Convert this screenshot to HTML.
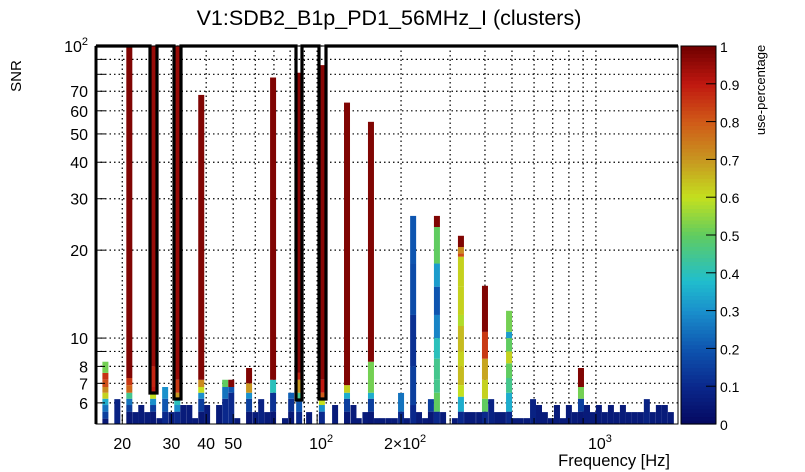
<!DOCTYPE html>
<html><head><meta charset="utf-8">
<style>
html,body{margin:0;padding:0;background:#fff;}
svg{display:block;font-family:"Liberation Sans",sans-serif;}
</style></head>
<body>
<svg id="c" width="805" height="472" viewBox="0 0 805 472">
  <rect x="0" y="0" width="805" height="472" fill="#fff"/>
  <text x="389" y="25" font-size="21.5" text-anchor="middle" fill="#000">V1:SDB2_B1p_PD1_56MHz_I (clusters)</text>
  <text transform="translate(21,76) rotate(-90)" font-size="15" text-anchor="middle">SNR</text>
  <text x="670" y="466" font-size="16.5" text-anchor="end">Frequency [Hz]</text>
  <text transform="translate(765,90) rotate(-90)" font-size="13" text-anchor="middle">use-percentage</text>
  <g id="grid"></g>
  <g id="bars"></g>
  <g id="axes"></g>
  <g id="cbar"></g>
</svg>
<script>
const colFreq = [17.4,19.2,21.2,22.3,23.4,24.6,25.8,27.2,28.5,30.0,31.5,33.1,34.8,36.5,38.4,40.3,44.5,46.8,49.2,51.7,57.0,60.0,63.0,66.2,69.5,76.7,80.7,86.2,93.6,104,116,128,135,141,149,156,164,172,181,190,200,210,221,232,244,256,269,283,312,328,345,362,381,400,421,442,464,488,513,538,566,595,625,656,690,725,762,800,841,884,929,976,1025,1077,1132,1189,1250,1313,1380,1450,1523,1600,1682,1767,1857];
const n1=[[5.32,0.06]], n2=[[5.58,0.06]], n3=[[5.9,0.06]], n4=[[6.18,0.08]];
const colSegs = [
 [[5.3,0.05],[5.6,0.15],[5.9,0.25],[6.2,0.35],[6.5,0.62],[6.8,0.72],[7.2,0.82],[7.6,0.86],[8.3,0.52]],
 n4,
 [[5.6,0.05],[5.9,0.15],[6.2,0.25],[6.5,0.45],[6.9,0.78],[7.3,0.85],[120,0.98]],
 n2,n3,n2,
 [[5.6,0.05],[5.9,0.15],[6.2,0.3],[6.5,0.6],[6.8,0.9],[8,0.88],[120,0.95]],
 n1,
 [[5.6,0.1],[6.2,0.2],[6.8,0.3]],
 n2,
 [[5.6,0.1],[5.9,0.3],[6.2,0.4],[6.5,0.7],[7.2,0.85],[120,0.95]],
 n3,n3,n1,
 [[5.6,0.05],[6.2,0.15],[6.5,0.3],[6.8,0.6],[7.2,0.72],[68,0.98]],
 n3,n3,
 [[6.2,0.1],[6.8,0.25],[7.2,0.5]],
 [[6.5,0.1],[6.8,0.2],[7.2,0.98]],
 n1,
 [[5.6,0.05],[6.2,0.15],[6.5,0.3],[7.0,0.7],[7.9,0.98]],
 n2,n4,n2,
 [[5.6,0.05],[6.5,0.12],[7.2,0.4],[78,0.98]],
 n1,
 [[5.6,0.05],[6.2,0.12],[6.5,0.22]],
 [[5.6,0.1],[6.2,0.2],[6.5,0.45],[7.2,0.7],[7.6,0.88],[81,0.97]],
 n2,
 [[5.6,0.1],[5.9,0.3],[6.2,0.6],[6.5,0.8],[7.2,0.9],[86,0.97]],
 n3,
 [[5.6,0.05],[6.2,0.15],[6.5,0.35],[6.9,0.62],[64,0.98]],
 n3,n1,n2,
 [[5.6,0.05],[6.2,0.15],[6.5,0.35],[8.3,0.52],[55,0.98]],
 n1,n1,n1,n1,
 [[5.6,0.1],[6.49,0.25]],
 n1,
 [[5.9,0.1],[8,0.15],[12,0.12],[18,0.18],[26.2,0.2]],
 n2,n1,
 [[5.6,0.05],[6.18,0.15]],
 [[5.6,0.1],[6.5,0.5],[7.2,0.45],[8.5,0.45],[10,0.4],[12,0.28],[15,0.2],[18,0.32],[24,0.5],[26.2,0.98]],
 n2,n1,
 [[5.6,0.1],[6.3,0.35],[6.9,0.6],[8,0.65],[9,0.62],[11,0.65],[12,0.58],[15,0.62],[19,0.62],[19.5,0.82],[20.5,0.72],[22.4,0.98]],
 n2,n2,n2,
 [[5.6,0.1],[6.2,0.5],[7.2,0.62],[8.5,0.68],[10.5,0.85],[15.1,0.98]],
 n4,n2,n2,
 [[5.6,0.1],[6.5,0.35],[7.3,0.45],[8.2,0.5],[9,0.62],[10,0.5],[10.5,0.32],[12.4,0.52]],
 n1,n1,n1,n4,n3,n2,n1,n3,n1,n3,n2,
 [[5.6,0.05],[6.2,0.15],[6.8,0.52],[7.9,0.98]],
 n3,n2,n3,n2,n3,n2,n3,n2,n2,n2,n4,n2,n3,n3,n2
];
const yTickVals = [6,7,8,9,10,20,30,40,50,60,70,80,90,100];
const yTickLabels = ["6","7","8","","10","20","30","40","50","60","70","","",""];
const xTickVals = [20,30,40,50,60,70,80,90,100,200,300,400,500,600,700,800,900,1000];
const xTickLabels = ["20","30","40","50","","","","","10²","2×10²","","","","","","","","10³"];
const cbTicks = [0,0.1,0.2,0.3,0.4,0.5,0.6,0.7,0.8,0.9,1];
const cbLabels = ["0","0.1","0.2","0.3","0.4","0.5","0.6","0.7","0.8","0.9","1"];

const L=96,R=678,T=46,B=424;
const fMin=16.1,fMax=1970,sMin=5.08,sMax=100;
const x=f=>L+(Math.log10(f)-Math.log10(fMin))/(Math.log10(fMax)-Math.log10(fMin))*(R-L);
const y=s=>B-(Math.log10(s)-Math.log10(sMin))/(Math.log10(sMax)-Math.log10(sMin))*(B-T);
const stops=[[0,[5,8,96]],[0.1,[10,40,140]],[0.2,[14,85,176]],[0.3,[26,144,204]],[0.38,[32,190,205]],[0.5,[96,204,96]],[0.6,[196,224,30]],[0.7,[200,150,32]],[0.8,[208,90,24]],[0.9,[192,24,16]],[1,[112,0,0]]];
function col(v){for(let i=1;i<stops.length;i++){if(v<=stops[i][0]){const a=stops[i-1],b=stops[i],t=(v-a[0])/(b[0]-a[0]);return 'rgb('+a[1].map((c,k)=>Math.round(c+(b[1][k]-c)*t)).join(',')+')';}}return 'rgb(112,0,0)';}
const NS='http://www.w3.org/2000/svg';
function mk(tag,attrs,parent){const e=document.createElementNS(NS,tag);for(const k in attrs)e.setAttribute(k,attrs[k]);parent.appendChild(e);return e;}
const grid=document.getElementById('grid'),bars=document.getElementById('bars'),axes=document.getElementById('axes'),cbar=document.getElementById('cbar');
xTickVals.forEach(v=>{const l=mk('line',{x1:x(v),x2:x(v),y1:T,y2:B,stroke:'#000','stroke-width':1.2,'stroke-dasharray':'1.5,3'},grid);

});
yTickVals.forEach(v=>{const l=mk('line',{x1:L,x2:R,y1:y(v),y2:y(v),stroke:'#000','stroke-width':1.2,'stroke-dasharray':'1.5,3'},grid);

});
const half=Math.pow(10,3/279*(Math.log10(fMax/fMin)*279/(R-L)));
colFreq.forEach((f,i)=>{const segs=colSegs[i];const g=mk('g',{},bars);


let lo=sMin;const x0=x(f/half),x1=x(f*half);
segs.forEach(s=>{const top=Math.min(s[0],sMax);const r=mk('rect',{x:x0,width:x1-x0,y:y(top),height:Math.max(0,y(lo)-y(top)),fill:col(s[1])},g);


lo=top;});});
const outl=mk('path',{d:'M96,46 H150 V393 H157 V46 H174 V399 H181 V46 H296 V400 H302 V46 H319 V399 H326 V46 H678',fill:'none',stroke:'#000','stroke-width':3.2},axes);


const fr=mk('rect',{x:L,y:T,width:R-L,height:B-T,fill:'none',stroke:'#000','stroke-width':1},axes);


mk('line',{x1:L,x2:L,y1:T,y2:B,stroke:'#000','stroke-width':3},axes);
yTickVals.forEach((v,i)=>{const t=mk('line',{x1:L,x2:L+9,y1:y(v),y2:y(v),stroke:'#000','stroke-width':1},axes);


if(yTickLabels[i]){const tx=mk('text',{x:88,y:y(v)+6,'font-size':16,'text-anchor':'end'},axes);tx.textContent=yTickLabels[i];

}});
const yl=mk('text',{x:88,y:y(100)+6,'font-size':16,'text-anchor':'end'},axes);yl.innerHTML='10<tspan dy="-7" font-size="11">2</tspan>';


xTickVals.forEach((v,i)=>{const t=mk('line',{x1:x(v),x2:x(v),y1:B,y2:B-(xTickLabels[i]?10:6),stroke:'#000','stroke-width':1},axes);


const lab=xTickLabels[i];if(lab){const tx=mk('text',{x:x(v),y:449,'font-size':16,'text-anchor':'middle'},axes);
if(lab.indexOf('10')>=0&&lab.length>2){const pre=lab.replace(/10.$/,'');const sup=lab.slice(-1)==='²'?'2':'3';tx.innerHTML=pre+'10<tspan dy="-7" font-size="11">'+sup+'</tspan>';tx.setAttribute('x',x(v)+4);}else tx.textContent=lab;

}});
const cx0=681,cx1=716;
for(let k=0;k<100;k++){const v=k/100;const r=mk('rect',{x:cx0,width:cx1-cx0,y:B-(k+1)*(B-T)/100,height:(B-T)/100+0.6,fill:col(v+0.005)},cbar);

}
mk('rect',{x:cx0,y:T,width:cx1-cx0,height:B-T,fill:'none',stroke:'#000','stroke-width':1},cbar);
cbTicks.forEach((v,i)=>{const yy=B-v*(B-T);const t=mk('line',{x1:cx1-10,x2:cx1,y1:yy,y2:yy,stroke:'#000'},cbar);


const tx=mk('text',{x:cx1+4,y:yy+6,'font-size':14},cbar);tx.textContent=cbLabels[i];

});
</script>
</body></html>
